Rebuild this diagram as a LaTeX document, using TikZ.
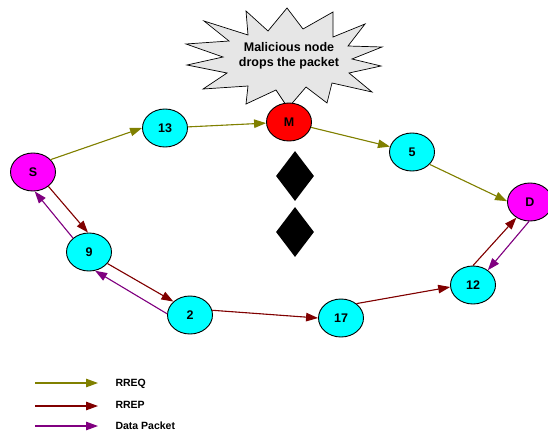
\documentclass[tikz,border=0pt]{standalone}
\usepackage{fontspec}
\setmainfont{Liberation Sans}[BoldFont={Liberation Sans Bold}]
\usetikzlibrary{arrows.meta,shapes.geometric}
\definecolor{rreq}{RGB}{128,128,0}
\definecolor{rrep}{RGB}{128,0,0}
\definecolor{dpkt}{RGB}{128,0,128}
\definecolor{burstfill}{RGB}{230,230,230}
\definecolor{cyanfill}{RGB}{0,255,255}
\definecolor{magfill}{RGB}{255,0,255}
\definecolor{redfill}{RGB}{255,0,0}
\begin{document}
\begin{tikzpicture}[x=1pt,y=-1pt,
  mnode/.style={ellipse,draw=black,line width=0.9pt,minimum width=45pt,minimum height=38pt,inner sep=0pt,font=\bfseries\fontsize{12.5}{14}\selectfont},
  normal/.style={mnode,fill=cyanfill},
  endpt/.style={mnode,fill=magfill},
  bad/.style={mnode,fill=redfill},
  conn/.style={line width=1.1pt,-{Triangle[length=12pt,width=8.5pt]}},
  reqline/.style={conn,draw=rreq,fill=rreq},
  repline/.style={conn,draw=rrep,fill=rrep},
  datline/.style={conn,draw=dpkt,fill=dpkt},
  gem/.style={diamond,fill=black,minimum width=38pt,minimum height=50pt,inner sep=0pt},
  legtext/.style={anchor=west,font=\bfseries\fontsize{10.5}{12}\selectfont}
]
\useasboundingbox (0,0) rectangle (548,434);

% burst
\draw[fill=burstfill,draw=black,line width=0.7pt]
 (287,8) -- (303,29) -- (333,12) -- (333,37) -- (365,24) -- (348,46) -- (382,47)
 -- (352,59) -- (381,66) -- (349,73) -- (372,92) -- (332,83) -- (327,103)
 -- (306,87) -- (288,108) -- (276,90) -- (246,104) -- (248,86) -- (203,89)
 -- (227,73) -- (187,65) -- (223,57) -- (186,44) -- (229,41) -- (204,21)
 -- (248,35) -- (246,11) -- (268,31) -- cycle;
\node[align=center,font=\bfseries\fontsize{12.5}{14.5}\selectfont] (burst) at (289,56) {Malicious node\\drops the packet};

% nodes
\node[endpt] (S) at (33,172) {S};
\node[normal] (n13) at (165,128) {13};
\node[bad] (M) at (289,122) {M};
\node[normal] (n5) at (412,152) {5};
\node[endpt] (D) at (530,202) {D};
\node[normal] (n9) at (89,252) {9};
\node[normal] (n2) at (190,315) {2};
\node[normal] (n17) at (341,318) {17};
\node[normal] (n12) at (473,285) {12};

\node[gem] (g1) at (295,176) {};
\node[gem] (g2) at (295,232) {};

% RREQ
\draw[reqline] (S.35) -- (n13.west);
\draw[reqline] (n13) -- (M);
\draw[reqline] (M) -- (n5);
\draw[reqline] (n5.-35) -- (D.178);

% RREP
\draw[repline] (S.-43) -- (n9.93);
\draw[repline] (n9.-32) -- (n2.141);
\draw[repline] (n2.12) -- (n17.west);
\draw[repline] (n17.43) -- (n12.185);
\draw[repline] (n12.90) -- (D.229);

% Data packet
\draw[datline] (D.267) -- (n12.45);
\draw[datline] (n2.177) -- (n9.-72);
\draw[datline] (n9.139) -- (S.-85);

% legend
\coordinate (l1a) at (35,383); \coordinate (l1b) at (98,383);
\coordinate (l2a) at (35,406); \coordinate (l2b) at (98,406);
\coordinate (l3a) at (35,426); \coordinate (l3b) at (98,426);
\draw[reqline] (l1a) -- (l1b);
\draw[repline] (l2a) -- (l2b);
\draw[datline] (l3a) -- (l3b);
\node[legtext] (t1) at (112,384) {RREQ};
\node[legtext] (t2) at (112,405) {RREP};
\node[legtext] (t3) at (112,426) {Data Packet};
\end{tikzpicture}
\end{document}
